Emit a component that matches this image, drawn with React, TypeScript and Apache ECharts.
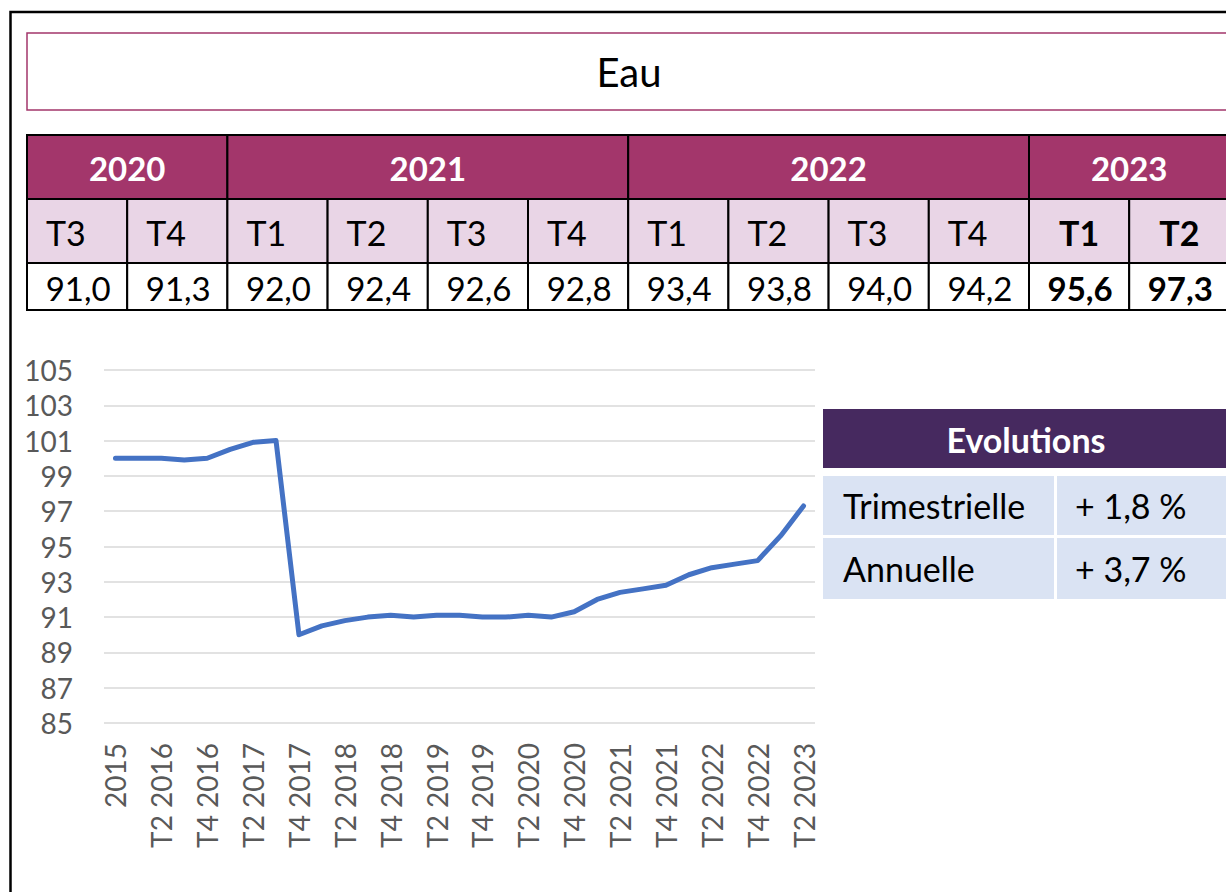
import React, { useEffect, useRef } from "react";
import * as echarts from "echarts";

// ---- Data ----
const categories = [
  "2015",
  "T1 2016", "T2 2016", "T3 2016", "T4 2016",
  "T1 2017", "T2 2017", "T3 2017", "T4 2017",
  "T1 2018", "T2 2018", "T3 2018", "T4 2018",
  "T1 2019", "T2 2019", "T3 2019", "T4 2019",
  "T1 2020", "T2 2020", "T3 2020", "T4 2020",
  "T1 2021", "T2 2021", "T3 2021", "T4 2021",
  "T1 2022", "T2 2022", "T3 2022", "T4 2022",
  "T1 2023", "T2 2023",
];
const values = [
  100.0,
  100.0, 100.0, 99.9, 100.0,
  100.5, 100.9, 101.0, 90.0,
  90.5, 90.8, 91.0, 91.1,
  91.0, 91.1, 91.1, 91.0,
  91.0, 91.1, 91.0, 91.3,
  92.0, 92.4, 92.6, 92.8,
  93.4, 93.8, 94.0, 94.2,
  95.6, 97.3,
];

const title = "Eau";
const tableYears = ["2020", "2021", "2022", "2023"];
const tableYearSpans = [2, 4, 4, 2];
const tableQuarters = ["T3", "T4", "T1", "T2", "T3", "T4", "T1", "T2", "T3", "T4", "T1", "T2"];
const tableValues = [91.0, 91.3, 92.0, 92.4, 92.6, 92.8, 93.4, 93.8, 94.0, 94.2, 95.6, 97.3];
const tableBold = [false, false, false, false, false, false, false, false, false, false, true, true];

const evoTitle = "Evolutions";
const evoLabels = ["Trimestrielle", "Annuelle"];
const evoValues = ["+ 1,8 %", "+ 3,7 %"];

const FONT = "Lato, 'Noto Sans', sans-serif";

function fmt(v: number) {
  return v.toFixed(1).replace(".", ",");
}

function buildGraphics() {
  const g: any[] = [];
  // outer black frame
  g.push({
    type: "polyline",
    shape: { points: [[10.5, 900], [10.5, 12], [1240, 12]] },
    style: { stroke: "#000", lineWidth: 2.5, fill: "none" },
  });
  // title box
  g.push({
    type: "rect",
    shape: { x: 27, y: 33, width: 1205, height: 77 },
    style: { stroke: "#a3366b", lineWidth: 1.5, fill: "#fff" },
  });
  g.push({
    type: "text",
    style: {
      text: title, x: 629, y: 72, align: "center", verticalAlign: "middle",
      fontFamily: FONT, fontSize: 40, fill: "#000",
    },
  });

  // top table
  const x0 = 27;
  const cw = 100.2;
  const yH = 135, hH = 64;
  const yS = 199, hS = 64;
  const yV = 263, hV = 47;
  let col = 0;
  tableYears.forEach((yr, i) => {
    const span = tableYearSpans[i];
    const x = x0 + col * cw;
    const w = span * cw;
    g.push({
      type: "rect",
      shape: { x, y: yH, width: w, height: hH },
      style: { fill: "#a3366b", stroke: "#000", lineWidth: 2 },
    });
    g.push({
      type: "text",
      style: {
        text: yr, x: x + w / 2, y: yH + hH / 2 + 1, align: "center", verticalAlign: "middle",
        fontFamily: FONT, fontSize: 33, fontWeight: "bold", fill: "#fff",
      },
    });
    col += span;
  });
  tableQuarters.forEach((q, i) => {
    const x = x0 + i * cw;
    const bold = tableBold[i];
    g.push({
      type: "rect",
      shape: { x, y: yS, width: cw, height: hS },
      style: { fill: "#e9d5e6", stroke: "#000", lineWidth: 2 },
    });
    g.push({
      type: "text",
      style: {
        text: q, x: bold ? x + cw / 2 : x + 19, y: yS + hS / 2 + 1,
        align: bold ? "center" : "left", verticalAlign: "middle",
        fontFamily: FONT, fontSize: 34, fontWeight: bold ? "bold" : "normal", fill: "#000",
      },
    });
    g.push({
      type: "rect",
      shape: { x, y: yV, width: cw, height: hV },
      style: { fill: "#fff", stroke: "#000", lineWidth: 2 },
    });
    g.push({
      type: "text",
      style: {
        text: fmt(tableValues[i]), x: x + cw / 2 + 1, y: yV + hV / 2 + 1,
        align: "center", verticalAlign: "middle",
        fontFamily: FONT, fontSize: 33, fontWeight: bold ? "bold" : "normal", fill: "#000",
      },
    });
  });

  // evolutions table
  const ex = 823;
  const ew = 410;
  g.push({
    type: "rect",
    shape: { x: ex, y: 409, width: ew, height: 59 },
    style: { fill: "#46295f" },
  });
  g.push({
    type: "text",
    style: {
      text: evoTitle, x: 1026, y: 439, align: "center", verticalAlign: "middle",
      fontFamily: FONT, fontSize: 34, fontWeight: "bold", fill: "#fff",
    },
  });
  const rowY = [476, 538];
  const rowH = [59, 61];
  evoLabels.forEach((lab, i) => {
    g.push({
      type: "rect",
      shape: { x: ex, y: rowY[i], width: 1054 - ex, height: rowH[i] },
      style: { fill: "#dae3f3" },
    });
    g.push({
      type: "rect",
      shape: { x: 1057, y: rowY[i], width: 1240 - 1057, height: rowH[i] },
      style: { fill: "#dae3f3" },
    });
    g.push({
      type: "text",
      style: {
        text: lab, x: 843, y: rowY[i] + rowH[i] / 2, align: "left", verticalAlign: "middle",
        fontFamily: FONT, fontSize: 34, fill: "#000",
      },
    });
    g.push({
      type: "text",
      style: {
        text: evoValues[i], x: 1075, y: rowY[i] + rowH[i] / 2, align: "left", verticalAlign: "middle",
        fontFamily: FONT, fontSize: 34, fill: "#000",
      },
    });
  });
  return g;
}

export default function App() {
  const ref = useRef<HTMLDivElement>(null);
  useEffect(() => {
    if (!ref.current) return;
    const chart = echarts.init(ref.current, undefined, { renderer: "svg" });
    chart.setOption({
      animation: false,
      backgroundColor: "#fff",
      grid: { left: 104, right: 1226 - 815, top: 370, bottom: 892 - 723, containLabel: false },
      xAxis: {
        type: "category",
        data: categories,
        boundaryGap: true,
        axisLine: { show: false },
        axisTick: { show: false },
        splitLine: { show: false },
        axisLabel: {
          interval: 1,
          rotate: 90,
          margin: 20,
          color: "#595959",
          fontSize: 28,
          fontFamily: FONT,
        },
      },
      yAxis: {
        type: "value",
        min: 85,
        max: 105,
        interval: 2,
        axisLine: { show: false },
        axisTick: { show: false },
        splitLine: { lineStyle: { color: "#d9d9d9", width: 1.5 } },
        axisLabel: {
          margin: 31,
          color: "#595959",
          fontSize: 28,
          fontFamily: FONT,
        },
      },
      series: [
        {
          type: "line",
          data: values,
          symbol: "none",
          lineStyle: { color: "#4472c4", width: 5, cap: "round", join: "round" },
        },
      ],
      graphic: buildGraphics(),
    });
    return () => chart.dispose();
  }, []);
  return (
    <div
      ref={ref}
      style={{ position: "absolute", left: 0, top: 0, width: 1226, height: 892 }}
    />
  );
}
